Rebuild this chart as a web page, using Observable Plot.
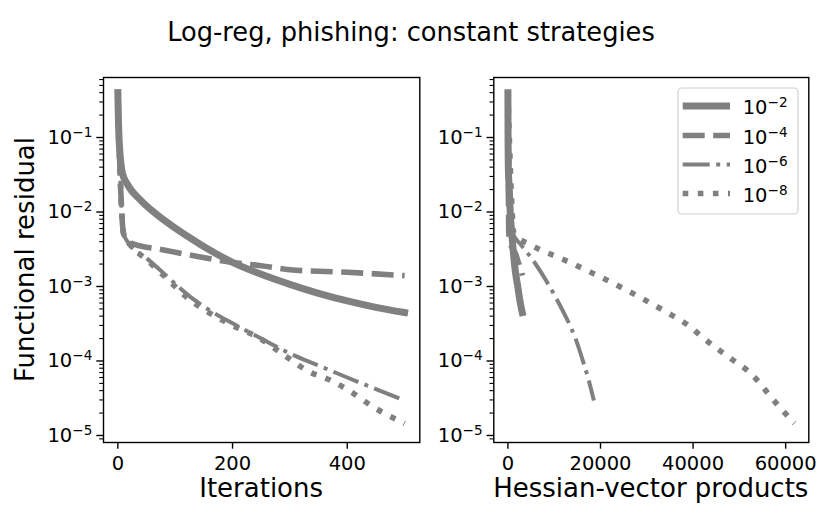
<!DOCTYPE html>
<html><head><meta charset="utf-8">
<script src="https://cdn.jsdelivr.net/npm/d3@7"></script>
<script src="https://cdn.jsdelivr.net/npm/@observablehq/plot@0.6"></script>
<style>
body{margin:0;background:white;font-family:"DejaVu Sans",sans-serif;}
#wrap{position:relative;width:830px;height:519px;overflow:hidden;}
#row{display:flex;}
#row svg{display:block;flex:none;}
</style></head><body>
<div id="wrap"><div id="title"></div><div id="row"></div></div>
<script>
// ---- data ----
const titleText = "Log-reg, phishing: constant strategies";
const yLabelText = "Functional residual";
const xLabelLeft = "Iterations";
const xLabelRight = "Hessian-vector products";

const tolExps = ["\u22122", "\u22124", "\u22126", "\u22128"]; // legend labels 10^-2 ... 10^-8

const yMajor = [1e-5, 1e-4, 1e-3, 1e-2, 1e-1];
const yMajorExps = ["\u22125", "\u22124", "\u22123", "\u22122", "\u22121"];
const xTicksLeft = [0, 200, 400];
const xTicksRight = [0, 20000, 40000, 60000];

// tolerance 1e-2 (solid)
const iters_2 = [0, 2, 8, 16, 40, 69, 97, 144, 200, 250, 300, 350, 400, 450, 500];
const hvp_2   = [0, 30, 120, 230, 390, 520, 720, 1030, 1380, 1690, 2050, 2340, 2600, 2860, 3100];
const res_2   = [0.40, 0.10, 0.033, 0.024, 0.0143, 0.0091, 0.0063, 0.00367, 0.00211, 0.00146, 0.00107, 0.00081, 0.00064, 0.000525, 0.000447];

// tolerance 1e-4 (dashed)
const iters_4 = [0, 2, 5, 10, 20, 28, 69, 120, 200, 250, 300, 400, 500];
const hvp_4   = [0, 40, 100, 200, 400, 550, 1100, 1700, 2250, 2500, 2700, 2950, 3110];
const res_4   = [0.40, 0.10, 0.02, 0.0051, 0.0040, 0.0037, 0.0032, 0.0027, 0.0021, 0.0019, 0.00168, 0.00155, 0.0014];

// tolerance 1e-6 (dash-dot)
const iters_6 = [0, 2, 5, 10, 20, 50, 80, 127, 160, 200, 250, 300, 350, 400, 450, 500];
const hvp_6   = [0, 200, 500, 1100, 2700, 5100, 7300, 10300, 11800, 13200, 14600, 15700, 16500, 17300, 17950, 18570];
const res_6   = [0.40, 0.10, 0.02, 0.0051, 0.0037, 0.0024, 0.0015, 0.00072, 0.00048, 0.00032, 0.0002, 0.000126, 0.000087, 0.00006, 0.000042, 0.0000295];

// tolerance 1e-8 (dotted)
const iters_8 = [0, 2, 5, 10, 22, 50, 80, 127, 160, 200, 243, 300, 330, 371, 403, 446, 500];
const hvp_8   = [0, 300, 700, 1300, 5000, 12000, 19400, 29800, 34600, 39000, 41950, 48300, 51800, 53900, 55700, 58700, 61900];
const res_8   = [0.40, 0.10, 0.02, 0.0051, 0.0036, 0.0023, 0.0014, 0.00065, 0.00044, 0.0003, 0.00021, 0.000106, 0.000074, 0.000055, 0.00004, 0.000024, 0.0000145];

// ---- styles ----
const GRAY = "#808080";
const lineStyles = [
  {w: 7,   dash: null,            cap: "square"},
  {w: 5.6, dash: "22,8.5",        cap: "butt"},
  {w: 4,   dash: "27,6.5,4,6.5",  cap: "butt"},
  {w: 5.6, dash: "5.6,9.5",       cap: "butt"}
];
const series = [
  {exp: tolExps[0], it: iters_2, hvp: hvp_2, res: res_2},
  {exp: tolExps[1], it: iters_4, hvp: hvp_4, res: res_4},
  {exp: tolExps[2], it: iters_6, hvp: hvp_6, res: res_6},
  {exp: tolExps[3], it: iters_8, hvp: hvp_8, res: res_8}
];
const yDomain = [8.05e-6, 0.639];
const yMinor = [];
for (let e = -6; e <= -1; e++) for (let k = 2; k <= 9; k++) {
  const v = k * Math.pow(10, e);
  if (v >= yDomain[0] && v <= yDomain[1]) yMinor.push(v);
}
const FONT = "DejaVu Sans";

// title
const tsvg = d3.select("#title").append("svg").attr("width", 830).attr("height", 60).style("display", "block");
tsvg.append("text").attr("x", 411).attr("y", 40.5).attr("text-anchor", "middle")
  .attr("font-family", FONT).attr("font-size", 25.7).attr("fill", "black").text(titleText);

function panel({xKey, xDomain, xTicks, width, ml, mr, xLabel, yLabel, legend}) {
  const marks = [];
  series.forEach((s, k) => {
    const data = s.it.map((_, j) => ({x: s[xKey][j], y: s.res[j]}));
    const st = lineStyles[k];
    marks.push(Plot.line(data, {x: "x", y: "y", stroke: GRAY, strokeWidth: st.w, curve: "monotone-x",
      strokeDasharray: st.dash, strokeLinecap: st.cap, strokeLinejoin: "round"}));
  });
  marks.push(Plot.axisY(yMinor, {tickSize: 3.8, tickFormat: () => "", strokeWidth: 1.1, label: null}));
  marks.push(Plot.axisY(yMajor, {tickSize: 6.7, tickPadding: 4.5, fontSize: 19.5, strokeWidth: 1.4,
    tickFormat: d => "10^" + yMajorExps[yMajor.indexOf(d)], label: null}));
  marks.push(Plot.axisX(xTicks, {tickSize: 6.7, tickPadding: 6.5, fontSize: 19.5, strokeWidth: 1.4,
    tickFormat: d => String(d), label: null}));
  marks.push(Plot.frame({stroke: "black", strokeWidth: 1.4}));
  const svg = Plot.plot({
    width, height: 459, marginTop: 17, marginBottom: 77, marginLeft: ml, marginRight: mr,
    x: {domain: xDomain, label: null},
    y: {type: "log", domain: yDomain, label: null},
    style: {fontFamily: FONT, fontSize: "19.5px", color: "black", background: "white", overflow: "visible"},
    marks
  });
  // superscripts on y tick labels
  d3.select(svg).selectAll('[aria-label="y-axis tick label"] text').each(function() {
    const t = d3.select(this);
    const s = t.text();
    if (s.indexOf("^") < 0) return;
    const [base, exp] = s.split("^");
    t.text("");
    t.append("tspan").text(base);
    t.append("tspan").attr("dy", -7).attr("font-size", "13.6px").text(exp);
  });
  const S = d3.select(svg);
  S.append("text").attr("x", (ml + width - mr) / 2).attr("y", 437).attr("text-anchor", "middle")
    .attr("font-family", FONT).attr("font-size", 26).attr("fill", "black").text(xLabel);
  if (yLabel) {
    S.append("text").attr("transform", "translate(34,199.5) rotate(-90)").attr("text-anchor", "middle")
      .attr("font-family", FONT).attr("font-size", 26).attr("fill", "black").text(yLabel);
  }
  if (legend) {
    const g = S.append("g");
    g.append("rect").attr("x", 238).attr("y", 28).attr("width", 120).attr("height", 126).attr("rx", 4)
      .attr("fill", "white").attr("fill-opacity", 0.8).attr("stroke", "#d0d0d0").attr("stroke-width", 1.2);
    const rowsY = [46, 75.5, 104.5, 133.5];
    series.forEach((s, k) => {
      const st = lineStyles[k];
      g.append("line").attr("x1", 242.7).attr("x2", 290).attr("y1", rowsY[k]).attr("y2", rowsY[k])
        .attr("stroke", GRAY).attr("stroke-width", st.w).attr("stroke-dasharray", st.dash)
        .attr("stroke-linecap", "butt");
      const t = g.append("text").attr("x", 302.7).attr("y", rowsY[k] + 8).attr("text-anchor", "start")
        .attr("font-family", FONT).attr("font-size", 19.5).attr("fill", "black");
      t.append("tspan").text("10");
      t.append("tspan").attr("dy", -7).attr("font-size", "13.6px").text(s.exp);
    });
  }
  return svg;
}

const row = document.getElementById("row");
row.appendChild(panel({xKey: "it", xDomain: [-25, 526.5], xTicks: xTicksLeft, width: 440, ml: 103, mr: 20.7,
  xLabel: xLabelLeft, yLabel: yLabelText, legend: false}));
row.appendChild(panel({xKey: "hvp", xDomain: [-3050, 65000], xTicks: xTicksRight, width: 390, ml: 53.3, mr: 21.7,
  xLabel: xLabelRight, yLabel: null, legend: true}));
</script>
</body></html>
